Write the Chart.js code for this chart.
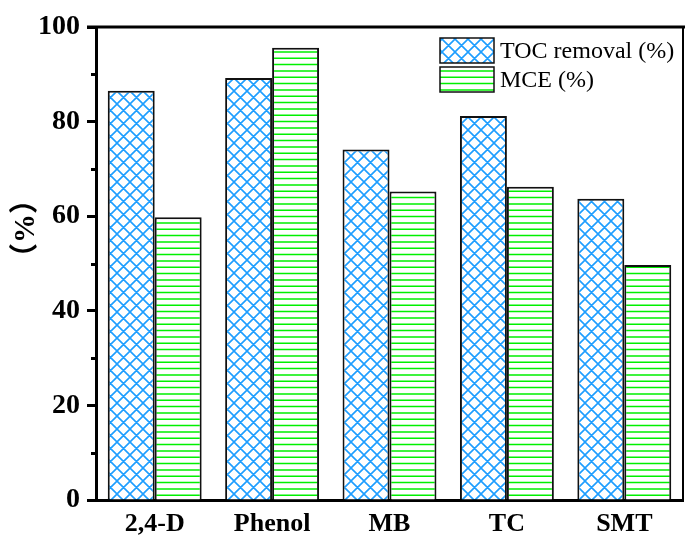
<!DOCTYPE html>
<html>
<head>
<meta charset="utf-8">
<script src="https://cdn.jsdelivr.net/npm/chart.js@4/dist/chart.umd.min.js"></script>
<style>
  html, body { margin: 0; padding: 0; background: #fff; }
  #wrap { width: 685px; height: 543px; }
</style>
</head>
<body>
<div id="wrap"><canvas id="c" width="685" height="543"></canvas></div>
<script>
// Pollutant categories and the two measured series (%)
const categories = ['2,4-D', 'Phenol', 'MB', 'TC', 'SMT'];
const tocRemoval = [86.5, 89.2, 74.1, 81.2, 63.7];
const mce = [59.8, 95.6, 65.2, 66.2, 49.7];
const seriesNames = ['TOC removal (%)', 'MCE (%)'];
const yMajorStep = 20;
const yMinorTicks = [10, 30, 50, 70, 90];
const yTitle = '（%）';

const SERIF = '"Liberation Serif", "Times New Roman", serif';

// Blue diagonal cross-hatch fill
function crossHatch() {
  const s = 13;
  const c = document.createElement('canvas');
  c.width = s; c.height = s;
  const g = c.getContext('2d');
  g.fillStyle = '#fff';
  g.fillRect(0, 0, s, s);
  g.strokeStyle = 'rgb(30,158,255)';
  g.lineWidth = 1.6;
  g.beginPath();
  for (const o of [-s, 0, s]) {
    g.moveTo(o, 0); g.lineTo(o + s, s);
    g.moveTo(o + s, 0); g.lineTo(o, s);
  }
  g.stroke();
  return g.createPattern(c, 'repeat');
}

// Green horizontal-line fill
function hLines() {
  const c = document.createElement('canvas');
  c.width = 4; c.height = 19;
  const g = c.getContext('2d');
  g.fillStyle = '#fff';
  g.fillRect(0, 0, 4, 19);
  g.strokeStyle = 'rgb(0,240,0)';
  g.lineWidth = 1.5;
  g.beginPath();
  for (const y of [1.2, 7.5, 13.9]) {
    g.moveTo(0, y); g.lineTo(4, y);
  }
  g.stroke();
  return g.createPattern(c, 'repeat');
}

// Top/right frame, minor y ticks, rotated y title and an in-plot legend
const decorations = {
  id: 'decorations',
  afterDraw(chart) {
    const ctx = chart.ctx;
    const a = chart.chartArea;
    const y = chart.scales.y;
    ctx.save();
    ctx.strokeStyle = '#000';
    ctx.lineCap = 'butt';

    // frame
    ctx.lineWidth = 3;
    ctx.beginPath();
    ctx.moveTo(a.left - 9, a.top);
    ctx.lineTo(chart.width, a.top);
    ctx.stroke();
    ctx.lineWidth = 2;
    ctx.beginPath();
    ctx.moveTo(a.right, a.top);
    ctx.lineTo(a.right, a.bottom);
    ctx.stroke();

    // minor ticks
    ctx.lineWidth = 3;
    ctx.beginPath();
    for (const v of yMinorTicks) {
      const py = Math.round(y.getPixelForValue(v)) + 0.5;
      ctx.moveTo(a.left - 5, py);
      ctx.lineTo(a.left, py);
    }
    ctx.stroke();

    // y-axis title
    ctx.save();
    ctx.translate(27, (a.top + a.bottom) / 2 - 35);
    ctx.rotate(-Math.PI / 2);
    ctx.fillStyle = '#000';
    ctx.font = 'bold 29px "Liberation Serif", "Noto Sans CJK SC", serif';
    ctx.textAlign = 'center';
    ctx.textBaseline = 'middle';
    ctx.fillText(yTitle, 0, 0);
    ctx.restore();

    // legend
    const bx = a.right - 243, bw = 54, bh = 25;
    chart.data.datasets.forEach((ds, i) => {
      const by = a.top + 11 + i * 29;
      ctx.fillStyle = ds.backgroundColor;
      ctx.fillRect(bx, by, bw, bh);
      ctx.lineWidth = 1.5;
      ctx.strokeStyle = '#111';
      ctx.strokeRect(bx, by, bw, bh);
      ctx.fillStyle = '#000';
      ctx.font = '24px ' + SERIF;
      ctx.textAlign = 'left';
      ctx.textBaseline = 'middle';
      ctx.fillText(ds.label, bx + bw + 6, by + bh / 2 + 1);
    });
    ctx.restore();
  }
};

new Chart(document.getElementById('c'), {
  type: 'bar',
  data: {
    labels: categories,
    datasets: [
      {
        label: seriesNames[0],
        data: tocRemoval,
        backgroundColor: crossHatch(),
        borderColor: '#111',
        borderWidth: 2,
        categoryPercentage: 0.8,
        barPercentage: 1.0
      },
      {
        label: seriesNames[1],
        data: mce,
        backgroundColor: hLines(),
        borderColor: '#111',
        borderWidth: 2,
        categoryPercentage: 0.8,
        barPercentage: 1.0
      }
    ]
  },
  options: {
    responsive: false,
    devicePixelRatio: 1,
    animation: false,
    layout: { padding: { top: 27, right: 2, left: 0, bottom: 0 } },
    plugins: {
      legend: { display: false },
      tooltip: { enabled: false }
    },
    scales: {
      x: {
        grid: { display: false, drawTicks: false },
        border: { display: true, width: 3, color: '#000' },
        ticks: {
          color: '#000',
          padding: 9,
          font: { family: SERIF, size: 26, weight: 'bold' }
        },
        afterFit(scale) { scale.height = 43; }
      },
      y: {
        min: 0,
        max: 100,
        grid: {
          drawOnChartArea: false,
          drawTicks: true,
          tickLength: 9,
          tickWidth: 3,
          tickColor: '#000'
        },
        border: { display: true, width: 3, color: '#000' },
        ticks: {
          stepSize: yMajorStep,
          color: '#000',
          padding: 7,
          font: { family: SERIF, size: 28, weight: 'bold' }
        },
        afterFit(scale) { scale.width = 96; }
      }
    }
  },
  plugins: [decorations]
});
</script>
</body>
</html>
